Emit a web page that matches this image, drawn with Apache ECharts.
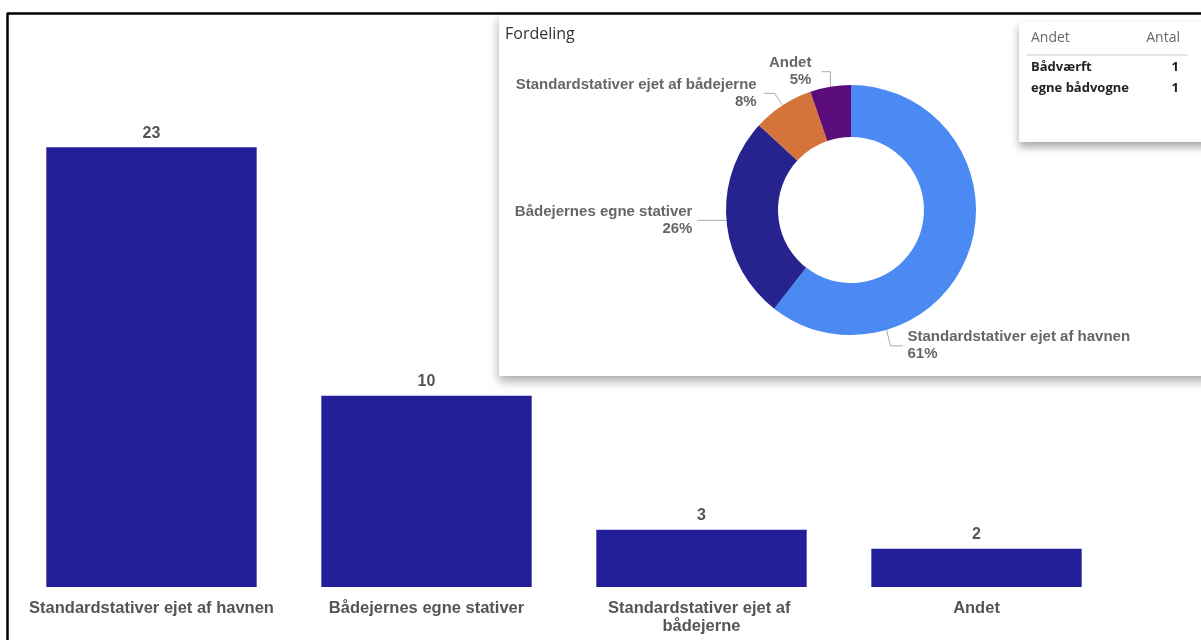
<!DOCTYPE html>
<html><head><meta charset="utf-8">
<script src="https://cdn.jsdelivr.net/npm/echarts@6/dist/echarts.min.js"></script>
<style>html,body{margin:0;padding:0;background:#fff}#c{width:1201px;height:640px}</style>
</head><body><div id="c"></div>
<script>
const categories = ['Standardstativer ejet af havnen', 'Bådejernes egne stativer', 'Standardstativer ejet af bådejerne', 'Andet'];
const values = [23, 10, 3, 2];
const pieTitle = 'Fordeling';
const tableHeader = ['Andet', 'Antal'];
const tableRows = ['Bådværft', 'egne bådvogne'];
const tableCounts = [1, 1];

const barColor = '#231F9A';
const pieColors = ['#4A8AF2', '#26238F', '#D4743A', '#5A0C7B'];
const FONT = '"Liberation Sans", Arial, sans-serif';
const TFONT = '"Open Sans", "DejaVu Sans", sans-serif';

// donut geometry (layout, not data)
const PIE_CX = 851, PIE_CY = 210, R_IN = 73, R_OUT = 125;
// label guide: anchor angle (deg, null = slice mid-angle), first segment, horizontal segment, text gap
const guide = [
  {angle: -73.5, seg: [4, 16], h: 12, gap: 5},
  {angle: null, seg: [-5, 0], h: -24, gap: 5},
  {angle: null, seg: [-8, -12], h: -11, gap: 7},
  {angle: null, seg: [0, -15], h: -9, gap: 10}
];
const total = values.reduce((a, b) => a + b, 0);
function midAngle(i) {
  let before = 0;
  for (let k = 0; k < i; k++) before += values[k];
  return 90 - (before + values[i] / 2) / total * 360;
}

const chart = echarts.init(document.getElementById('c'), null, {renderer: 'canvas'});

const graphics = [
  {type: 'rect', z: 1, shape: {x: 499, y: 15, width: 720, height: 361},
   style: {fill: '#fff', shadowBlur: 10, shadowOffsetY: 5, shadowColor: 'rgba(0,0,0,0.35)'}},
  {type: 'text', z: 3, x: 505, y: 34, style: {text: pieTitle, font: '16px ' + TFONT, fill: '#333', verticalAlign: 'middle'}},
  {type: 'rect', z: 4, shape: {x: 1019, y: 22, width: 200, height: 120},
   style: {fill: '#fff', shadowBlur: 8, shadowOffsetY: 5, shadowColor: 'rgba(0,0,0,0.35)'}},
  {type: 'text', z: 5, x: 1031, y: 38, style: {text: tableHeader[0], font: '14px ' + TFONT, fill: '#666', verticalAlign: 'middle'}},
  {type: 'text', z: 5, x: 1180, y: 38, style: {text: tableHeader[1], font: '14px ' + TFONT, fill: '#666', verticalAlign: 'middle', align: 'right'}},
  {type: 'line', z: 5, shape: {x1: 1027, y1: 55, x2: 1188, y2: 55}, style: {stroke: '#ddd', lineWidth: 1.5}},
  {type: 'line', z: 50, shape: {x1: 7, y1: 13.5, x2: 1201, y2: 13.5}, style: {stroke: '#000', lineWidth: 2.5}},
  {type: 'line', z: 50, shape: {x1: 7.5, y1: 13, x2: 7.5, y2: 640}, style: {stroke: '#000', lineWidth: 2.5}}
];
tableRows.forEach((r, i) => {
  graphics.push({type: 'text', z: 5, x: 1031, y: 67 + i * 21, style: {text: r, font: 'bold 13px ' + TFONT, fill: '#222', verticalAlign: 'middle'}});
  graphics.push({type: 'text', z: 5, x: 1179, y: 67 + i * 21, style: {text: String(tableCounts[i]), font: 'bold 13px ' + TFONT, fill: '#222', verticalAlign: 'middle', align: 'right'}});
});

const option = {
  backgroundColor: '#fff',
  animation: false,
  graphic: {elements: graphics},
  grid: {left: 14, right: 87, top: 109, bottom: 53, containLabel: false},
  xAxis: {
    type: 'category', data: categories,
    axisLine: {show: false}, axisTick: {show: false},
    axisLabel: {interval: 0, margin: 12, color: '#555', fontFamily: FONT, fontWeight: 'bold', fontSize: 16.5,
      width: 255, overflow: 'break', lineHeight: 18}
  },
  yAxis: {type: 'value', min: 0, max: 25, show: false, splitLine: {show: false}},
  series: [
    {
      type: 'bar', data: values, barCategoryGap: '23.5%', z: 2,
      itemStyle: {color: barColor},
      label: {show: true, position: 'top', distance: 6, color: '#555', fontFamily: FONT, fontWeight: 'bold', fontSize: 16}
    },
    {
      type: 'pie', z: 3, center: [PIE_CX, PIE_CY], radius: [R_IN, R_OUT], startAngle: 90, clockwise: true,
      data: categories.map((c, i) => ({name: c, value: values[i], itemStyle: {color: pieColors[i]}})),
      label: {
        show: true, position: 'outside', color: '#666', fontFamily: FONT, fontWeight: 'bold', fontSize: 15, lineHeight: 17,
        overflow: 'none',
        formatter: p => p.name + '\n' + Math.round(p.percent) + '%'
      },
      labelLine: {show: true, length: 12, length2: 12, lineStyle: {color: '#aaa', width: 1}},
      labelLayout: function (params) {
        const g = guide[params.dataIndex];
        const a = (g.angle == null ? midAngle(params.dataIndex) : g.angle) * Math.PI / 180;
        const p0 = [PIE_CX + R_OUT * Math.cos(a), PIE_CY - R_OUT * Math.sin(a)];
        const p1 = [p0[0] + g.seg[0], p0[1] + g.seg[1]];
        const p2 = [p1[0] + g.h, p1[1]];
        const right = g.h > 0;
        return {
          x: p2[0] + (right ? g.gap : -g.gap), y: p2[1],
          align: right ? 'left' : 'right', verticalAlign: 'middle',
          labelLinePoints: [p0, p1, p2]
        };
      },
      emphasis: {disabled: true}
    }
  ]
};
chart.setOption(option);
</script></body></html>
